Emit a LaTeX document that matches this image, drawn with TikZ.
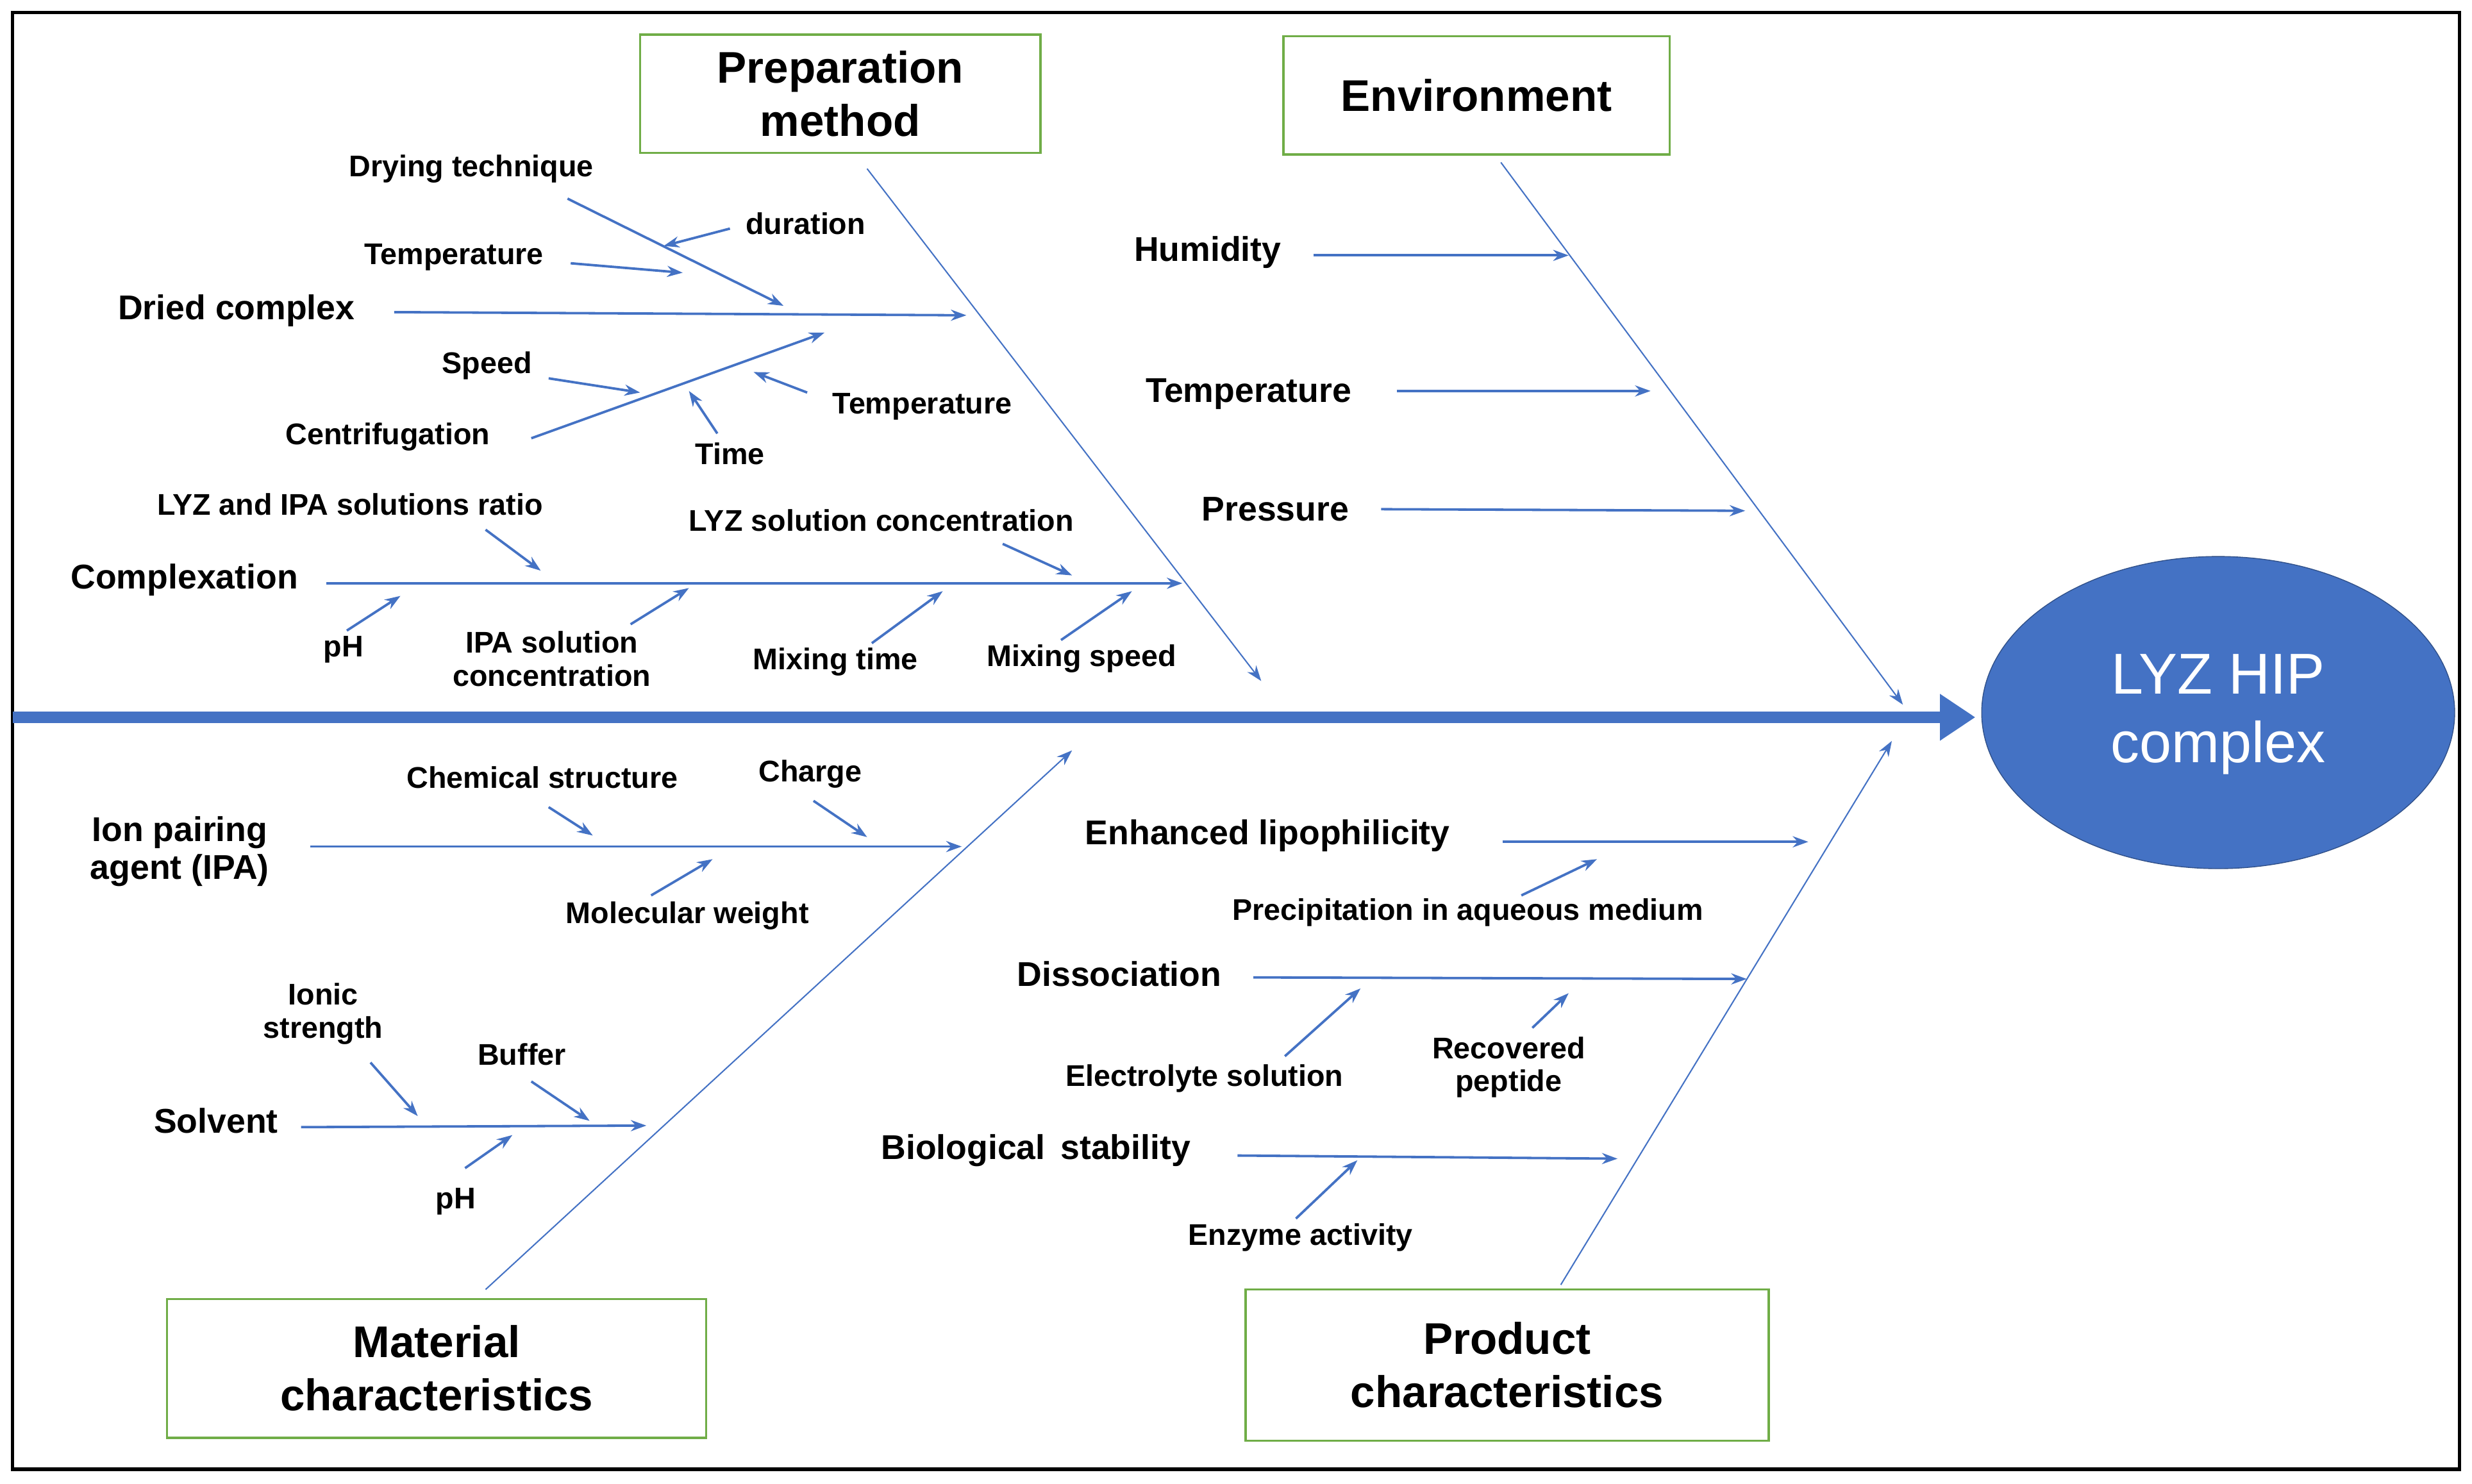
\documentclass[tikz,border=0pt]{standalone}
\usepackage{fontspec}
\setmainfont{Liberation Sans}
\usetikzlibrary{arrows.meta}
\definecolor{bl}{HTML}{4472C4}
\definecolor{gr}{HTML}{70AD47}
\begin{document}
\begin{tikzpicture}[x=0.025cm,y=-0.025cm,
 sm/.style={font=\fontsize{13.5}{15}\selectfont\bfseries,align=center},
 bg/.style={font=\fontsize{15.5}{17}\selectfont\bfseries,align=center},
 box/.style={draw=gr,line width=1pt,font=\fontsize{20}{24}\selectfont\bfseries,align=center,inner sep=0pt},
 ar/.style={bl,line width=1.1pt,-{Stealth[length=7pt,width=5pt]}},
 dg/.style={bl,line width=0.6pt,-{Stealth[length=7pt,width=5pt]}}]
\useasboundingbox (0,0) rectangle (1568,941);
\draw[line width=1.5pt] (8,8) rectangle (1560,932);
% spine and effect
\fill[bl,draw=bl!70!black] (1407,452) ellipse [x radius=150,y radius=99];
\node[text=white,font=\fontsize{26}{31}\selectfont,align=center] (effl) at (1407,453) {LYZ HIP\\complex};
\coordinate (s0) at (8,455); \coordinate (s1) at (1253,455);
\draw[bl,line width=5pt,-{Triangle[length=16pt,width=20pt]}] (s0) -- (s1);
% category boxes
\node[box,minimum width=254*0.025cm,minimum height=75*0.025cm] (pm) at (533,59.5) {Preparation\\method};
\node[box,minimum width=245*0.025cm,minimum height=75*0.025cm] (en) at (936.5,60.5) {Environment};
\node[box,minimum width=342*0.025cm,minimum height=88*0.025cm] (mc) at (277,868) {Material\\characteristics};
\node[box,minimum width=332*0.025cm,minimum height=96*0.025cm] (pc) at (956,866) {Product\\characteristics};
% diagonals
\coordinate (d1a) at (550,107); \coordinate (d1b) at (800,432);
\coordinate (d2a) at (952,103); \coordinate (d2b) at (1207,447);
\coordinate (d3a) at (308,818); \coordinate (d3b) at (680,476);
\coordinate (d4a) at (990,815); \coordinate (d4b) at (1200,470);
\draw[dg] (d1a)--(d1b); \draw[dg] (d2a)--(d2b); \draw[dg] (d3a)--(d3b); \draw[dg] (d4a)--(d4b);
% preparation method
\node[bg] (dc) at (150,197) {Dried complex};
\draw[ar] (250,198) -- (613,200);
\node[sm] (dt) at (299,107) {Drying technique};
\draw[ar] (360,126) -- (497,194);
\node[sm] (du) at (511,142) {duration};
\draw[ar] (463,145) -- (421,156);
\node[sm] (t1) at (288,163) {Temperature};
\draw[ar] (362,167) -- (433,173);
\node[sm] (sp) at (309,232) {Speed};
\draw[ar] (348,240) -- (406,249);
\node[sm] (ce) at (246,277) {Centrifugation};
\draw[ar] (337,278) -- (523,211);
\node[sm] (ti) at (463,288) {Time};
\draw[ar] (455,275) -- (437,248);
\node[sm] (t2) at (585,258) {Temperature};
\draw[ar] (512,249) -- (478,236);
\node[bg] (cx) at (117,368) {Complexation};
\draw[ar] (207,370) -- (750,370);
\node[sm] (rat) at (222,320) {LYZ and IPA solutions ratio};
\draw[ar] (308,336) -- (343,362);
\node[sm] (lsc) at (559,330) {LYZ solution concentration};
\draw[ar] (636,345) -- (680,365);
\node[sm] (ph1) at (218,412) {pH};
\draw[ar] (220,400) -- (254,378);
\node[sm] (isc) at (350,418) {IPA solution\\concentration};
\draw[ar] (400,396) -- (437,373);
\node[sm] (mt) at (530,420) {Mixing time};
\draw[ar] (553,408) -- (598,375);
\node[sm] (ms) at (686,418) {Mixing speed};
\draw[ar] (673,406) -- (718,375);
% environment
\node[bg] (hu) at (766,160) {Humidity};
\draw[ar] (833,162) -- (995,162);
\node[bg] (te) at (792,250) {Temperature};
\draw[ar] (886,248) -- (1047,248);
\node[bg] (pr) at (809,323) {Pressure};
\draw[ar] (876,323) -- (1107,324);
% material
\node[bg] (ipa) at (114,540) {Ion pairing\\agent (IPA)};
\draw[ar] (197,537) -- (610,537);
\node[sm] (cs) at (344,493) {Chemical structure};
\draw[ar] (348,512) -- (376,530);
\node[sm] (ch) at (514,491) {Charge};
\draw[ar] (516,508) -- (550,531);
\node[sm] (mw) at (436,581) {Molecular weight};
\draw[ar] (413,568) -- (452,545);
\node[bg] (so) at (137,711) {Solvent};
\draw[ar] (191,715) -- (410,714);
\node[sm] (is) at (205,643) {Ionic\\strength};
\draw[ar] (235,674) -- (265,708);
\node[sm] (bu) at (331,669) {Buffer};
\draw[ar] (337,686) -- (374,711);
\node[sm] (ph2) at (289,762) {pH};
\draw[ar] (295,741) -- (325,720);
% product
\node[bg] (el) at (804,530) {Enhanced lipophilicity};
\draw[ar] (953,534) -- (1147,534);
\node[sm] (pa) at (931,579) {Precipitation in aqueous medium};
\draw[ar] (965,568) -- (1013,545);
\node[bg] (di) at (710,618) {Dissociation};
\draw[ar] (795,620) -- (1108,621);
\node[sm] (es) at (764,684) {Electrolyte solution};
\draw[ar] (815,670) -- (863,627);
\node[sm] (rp) at (957,677) {Recovered\\peptide};
\draw[ar] (972,652) -- (995,630);
\node[bg] (bs) at (657,730) {Biological\, stability};
\draw[ar] (785,733) -- (1026,735);
\node[sm] (ea) at (825,785) {Enzyme activity};
\draw[ar] (822,773) -- (861,736);
\end{tikzpicture}
\end{document}
